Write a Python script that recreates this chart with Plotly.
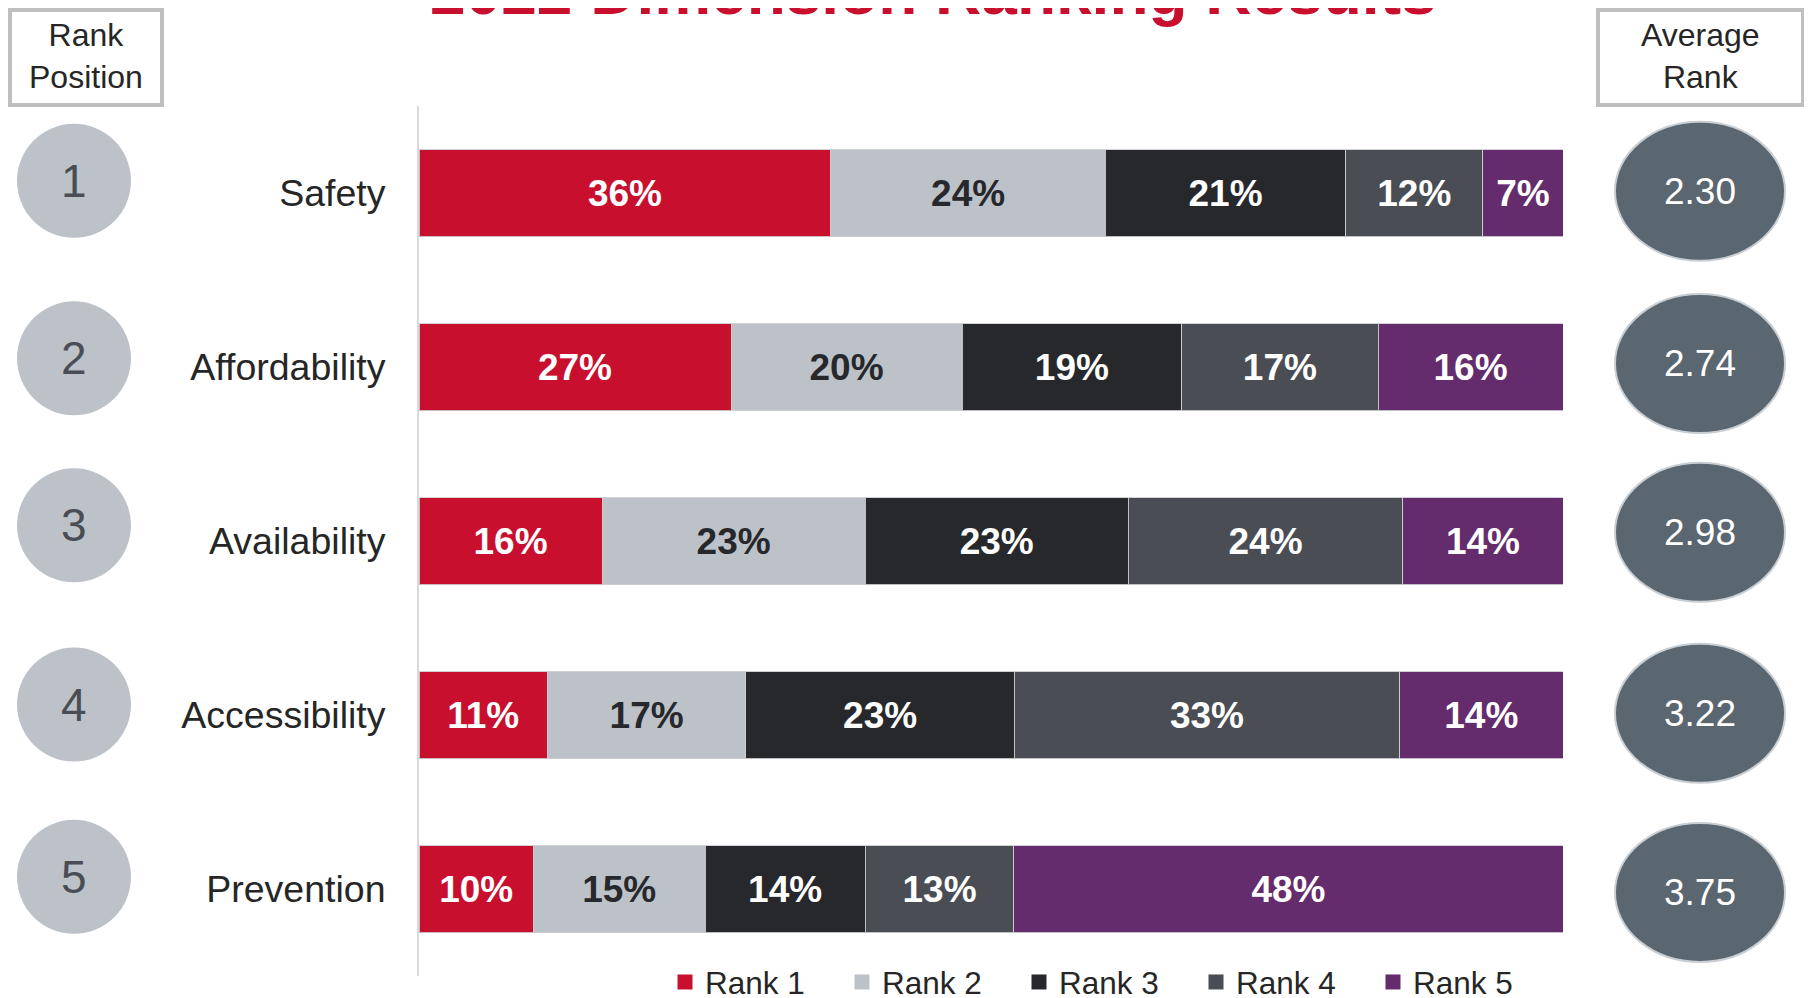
import plotly.graph_objects as go

categories = ["Safety", "Affordability", "Availability", "Accessibility", "Prevention"]
rank_names = ["Rank 1", "Rank 2", "Rank 3", "Rank 4", "Rank 5"]
rank1 = [36, 27, 16, 11, 10]
rank2 = [24, 20, 23, 17, 15]
rank3 = [21, 19, 23, 23, 14]
rank4 = [12, 17, 24, 33, 13]
rank5 = [7, 16, 14, 14, 48]
rank_positions = ["1", "2", "3", "4", "5"]
average_rank = [2.30, 2.74, 2.98, 3.22, 3.75]

series = [rank1, rank2, rank3, rank4, rank5]
colors = ["#C8102E", "#BCC2C8", "#27282C", "#4A4D54", "#642C6C"]
text_colors = ["white", "#27282C", "white", "white", "white"]

FONT = "Liberation Sans, Arial, sans-serif"
OFF = 8  # page body margin offset

fig = go.Figure()
for name, vals, col, tcol in zip(rank_names, series, colors, text_colors):
    fig.add_trace(go.Bar(
        y=categories, x=vals, name=name, orientation="h", legendgroup=name, showlegend=False,
        marker=dict(color=col, line=dict(color="rgba(205,205,210,0.9)", width=1)),
        text=[f"{v}%" for v in vals], textposition="inside", insidetextanchor="middle",
        textfont=dict(family=FONT, size=37, color=tcol, weight="bold"),
        constraintext="none", hoverinfo="skip",
    ))
# legend entries (square markers, larger than default bar swatches)
for name, col in zip(rank_names, colors):
    fig.add_trace(go.Scatter(
        x=[None], y=[None], mode="markers", name=name, legendgroup=name,
        marker=dict(symbol="square", size=15, color=col), hoverinfo="skip",
    ))

# pixel helpers (targets in window pixels; figure drawn OFF px in from top-left)
L, R, T, B = 419 - OFF, 1563 - OFF, 106 - OFF, 976 - OFF
def px(x):
    return (x - OFF - L) / (R - L)
def py(y):
    return (B - (y - OFF)) / (B - T)

shapes = []
annotations = []

# header boxes
for (x0, x1, label) in [(10, 162, "Rank<br>Position"), (1598, 1803, "Average<br>Rank")]:
    shapes.append(dict(type="rect", xref="paper", yref="paper", x0=px(x0), x1=px(x1),
                       y0=py(105), y1=py(10), line=dict(color="#BFBFBF", width=4),
                       fillcolor="white", layer="above"))
    annotations.append(dict(xref="paper", yref="paper", x=px((x0 + x1) / 2), y=py(56),
                            text=label, showarrow=False, xanchor="center", yanchor="middle",
                            font=dict(family=FONT, size=32, color="#262626")))

unit = (B - T) / 5.0
rank_offsets = [-0.07, -0.05, -0.09, -0.06, -0.07]
avg_offsets = [-0.01, -0.02, -0.05, -0.01, 0.02]
for i, (pos, avg) in enumerate(zip(rank_positions, average_rank)):
    cy = i + rank_offsets[i]
    r = 57 / unit
    shapes.append(dict(type="circle", xref="paper", yref="y", x0=px(74 - 57), x1=px(74 + 57),
                       y0=cy - r, y1=cy + r, fillcolor="#BCC2C8", line=dict(width=0), layer="above"))
    annotations.append(dict(xref="paper", yref="y", x=px(74), y=cy, text=pos, showarrow=False,
                            xanchor="center", yanchor="middle",
                            font=dict(family=FONT, size=46, color="#4A4D54")))
    ay = i + avg_offsets[i]
    rh = 69.5 / unit
    shapes.append(dict(type="circle", xref="paper", yref="y", x0=px(1615), x1=px(1785),
                       y0=ay - rh, y1=ay + rh, fillcolor="#5A6670",
                       line=dict(color="#C9CED3", width=2), layer="above"))
    annotations.append(dict(xref="paper", yref="y", x=px(1700), y=ay, text=f"{avg:.2f}",
                            showarrow=False, xanchor="center", yanchor="middle",
                            font=dict(family=FONT, size=37, color="white")))

# title (partly cut by the top edge, as in the reference)
annotations.append(dict(xref="paper", yref="paper", x=px(933), y=py(-8), text="2022 Dimension Ranking Results",
                        showarrow=False, xanchor="center", yanchor="middle",
                        font=dict(family=FONT, size=64, color="#C8102E", weight="bold")))

fig.update_layout(
    width=1812, height=998,
    barmode="stack", barnorm="percent", bargap=0.5,
    paper_bgcolor="white", plot_bgcolor="white",
    margin=dict(l=L, r=1812 - R, t=T, b=998 - B, pad=0, autoexpand=False),
    xaxis=dict(range=[0, 100], visible=False, fixedrange=True),
    yaxis=dict(autorange=False, range=[4.5, -0.5], showgrid=False, zeroline=False,
               showline=True, linecolor="#D9D9D9", linewidth=2,
               ticks="outside", ticklen=24, tickcolor="rgba(0,0,0,0)",
               tickfont=dict(family=FONT, size=37.5, color="#262626")),
    legend=dict(orientation="h", x=px(665), xanchor="left", y=py(982), yanchor="middle",
                font=dict(family=FONT, size=31.5, color="#262626"),
                entrywidth=132, entrywidthmode="pixels", bgcolor="rgba(0,0,0,0)",
                traceorder="normal", itemclick=False, itemdoubleclick=False),
    shapes=shapes, annotations=annotations,
)

fig.write_html("out.html")
